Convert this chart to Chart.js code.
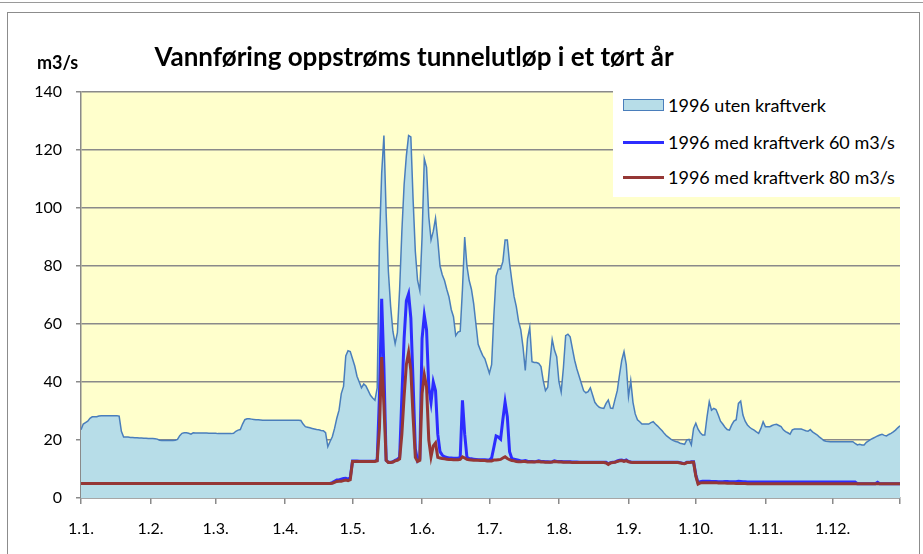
<!DOCTYPE html>
<html>
<head>
<meta charset="utf-8">
<script src="https://cdn.jsdelivr.net/npm/chart.js@4"></script>
<style>
  html, body { margin: 0; padding: 0; background: #fff; }
  body { width: 923px; height: 554px; position: relative; overflow: hidden; font-family: Lato, "Open Sans", sans-serif; }
  #topline { position: absolute; left: 0; top: 2px; width: 923px; height: 0; border-top: 1px solid #9a9a9a; }
  #frame { position: absolute; left: 7px; top: 12px; width: 913px; height: 560px; border: 1px solid #8c8c8c; box-sizing: border-box; }
  canvas { position: absolute; left: 0; top: 0; }
  #title { position: absolute; left: 0; top: 40px; width: 828px; text-align: center; font-weight: bold; font-size: 26px; line-height: 32px; color: #000; white-space: nowrap; }
  #unit { position: absolute; left: 37px; top: 51px; font-weight: bold; font-size: 18px; line-height: 22px; color: #000; }
  #legend { position: absolute; left: 613px; top: 90px; width: 289px; height: 107px; background: #fff; }
  .lg { position: absolute; left: 10px; height: 22px; display: flex; align-items: center; font-size: 18px; color: #000; white-space: nowrap; }
  .sw { width: 41px; margin-right: 4px; box-sizing: border-box; flex: none; }
</style>
</head>
<body>
<div id="topline"></div>
<div id="frame"></div>
<canvas id="c" width="923" height="554"></canvas>
<div id="title">Vannføring oppstrøms tunnelutløp i et tørt år</div>
<div id="unit">m3/s</div>
<div id="legend"></div>
<script>
// ---- data (daily values, 1996, 366 days) ----
const seriesNames = ['1996 uten kraftverk', '1996 med kraftverk 60 m3/s', '1996 med kraftverk 80 m3/s'];
const tickDays = [0, 31, 60, 91, 121, 152, 182, 213, 244, 274, 305, 335, 365];
const tickLabels = ['1.1.', '1.2.', '1.3.', '1.4.', '1.5.', '1.6.', '1.7.', '1.8.', '1.9.', '1.10.', '1.11.', '1.12.', ''];
const yTicks = [0, 20, 40, 60, 80, 100, 120, 140];

const utenKraftverk = [
  23.5, 25.5, 26, 26.5, 27.5, 28, 28, 28, 28.3, 28.4,
  28.4, 28.4, 28.4, 28.4, 28.4, 28.4, 28.4, 28.2, 23, 21,
  21, 21, 20.9, 20.9, 20.8, 20.8, 20.7, 20.7, 20.6, 20.6,
  20.5, 20.5, 20.5, 20.4, 20.3, 19.9, 19.8, 19.8, 19.8, 19.8,
  19.8, 19.8, 19.9, 20.2, 21.5, 22.3, 22.5, 22.5, 22.3, 22,
  22.5, 22.4, 22.4, 22.4, 22.4, 22.4, 22.4, 22.3, 22.3, 22.3,
  22.3, 22.2, 22.2, 22.2, 22.2, 22.2, 22.2, 22.2, 22.3, 23,
  23.4, 23.6, 25.5, 27, 27.3, 27.3, 27.2, 27.1, 27, 27,
  26.9, 26.8, 26.8, 26.8, 26.8, 26.8, 26.8, 26.8, 26.8, 26.8,
  26.8, 26.8, 26.8, 26.8, 26.8, 26.8, 26.8, 26.8, 26.7, 25.5,
  24.6, 24.4, 24.2, 24, 23.8, 23.6, 23.5, 23.3, 23.2, 22.5,
  17.7, 19.5, 21.1, 24, 27.5, 30.3, 36, 38.5, 49, 50.8,
  50.5, 48, 45.5, 42, 40, 38, 39.3, 38.6, 37, 35.4,
  34.5, 33.7, 38, 88, 112, 125, 98, 78, 66, 57.5,
  53.2, 57, 72, 92, 108, 118, 125, 124.5, 103, 85,
  75, 71.5, 90, 117, 114, 97, 89, 92, 96.5, 89,
  80, 77, 75, 72, 69.3, 65, 62.5, 56, 57.2, 57.5,
  72, 90, 80, 75, 72, 67, 60, 53, 51, 49.2,
  48, 45.5, 43, 46, 63, 76.5, 79, 79, 81.5, 89,
  89, 81, 75, 69.5, 66, 61, 58, 52, 44, 55,
  58.8, 47, 46.7, 46.7, 46.4, 45.3, 40.5, 37, 38.2, 47,
  54.7, 51, 48.7, 40.1, 36.5, 45, 56, 56.5, 55.6, 51.5,
  47.5, 44.5, 42, 39.5, 37, 36.3, 36.7, 38, 35.5, 33,
  32, 31.3, 31, 30.9, 32.6, 33.8, 31, 30.9, 34, 37,
  42.5, 47.5, 50.5, 46, 35, 40.5, 33, 29, 27, 26.3,
  25.5, 25.5, 25.5, 25.5, 26, 26.3, 25.5, 24.8, 24, 23.2,
  22.2, 21.4, 20.8, 20.2, 19.8, 19.5, 19.3, 18.9, 18.7, 18.5,
  20, 20.2, 18.3, 24, 25.8, 23.7, 22.5, 21.7, 21.7, 28,
  33.2, 30.3, 30.9, 30.5, 28.6, 26.5, 25.5, 24.4, 23.6, 23.4,
  25.2, 26.5, 27, 32.6, 33.4, 28.6, 26.5, 25.2, 24.4, 23.8,
  23.4, 22.8, 22.3, 24, 26.3, 24.6, 24.6, 24.6, 25, 25.3,
  25.4, 25, 24.6, 23.5, 22.9, 22.5, 22, 23.5, 23.8, 23.8,
  23.8, 23.8, 23.5, 23.2, 23, 23.6, 22.8, 22.3, 21.8, 21.1,
  20.5, 19.8, 19.6, 19.5, 19.4, 19.4, 19.4, 19.4, 19.4, 19.4,
  19.4, 19.4, 19.4, 19.4, 19.4, 18.8, 18.3, 18.5, 18.3, 18.3,
  19.2, 19.7, 20.2, 20.6, 21, 21.4, 21.7, 22, 21.6, 21.4,
  21.9, 22.3, 22.8, 23.4, 24.2, 24.9
];

const medKraftverk60 = [
  5, 5, 5, 5, 5, 5, 5, 5, 5, 5,
  5, 5, 5, 5, 5, 5, 5, 5, 5, 5,
  5, 5, 5, 5, 5, 5, 5, 5, 5, 5,
  5, 5, 5, 5, 5, 5, 5, 5, 5, 5,
  5, 5, 5, 5, 5, 5, 5, 5, 5, 5,
  5, 5, 5, 5, 5, 5, 5, 5, 5, 5,
  5, 5, 5, 5, 5, 5, 5, 5, 5, 5,
  5, 5, 5, 5, 5, 5, 5, 5, 5, 5,
  5, 5, 5, 5, 5, 5, 5, 5, 5, 5,
  5, 5, 5, 5, 5, 5, 5, 5, 5, 5,
  5, 5, 5, 5, 5, 5, 5, 5, 5, 5,
  5, 5, 5.3, 5.8, 6.2, 6.2, 6.5, 6.7, 6.8, 6.5,
  7, 12.8, 12.8, 12.8, 12.7, 12.7, 12.7, 12.7, 12.7, 12.7,
  12.7, 12.8, 13, 35, 68.7, 45, 13, 12.3, 12.3, 12.5,
  13, 13.3, 14, 35, 55, 68, 70.4, 62, 40, 17,
  12.8, 13.5, 55, 63, 58, 38, 33, 40, 37, 22,
  16, 14.8, 14.2, 14, 13.8, 13.8, 13.7, 13.7, 13.7, 14,
  33.7, 22, 14, 13.6, 13.5, 13.4, 13.3, 13.2, 13.2, 13.2,
  13.2, 13.1, 13.1, 13.8, 17.5, 21.4, 21, 20.3, 27, 33,
  28, 16, 13.6, 13.4, 13.2, 13, 12.8, 12.8, 12.9, 12.7,
  12.6, 12.6, 12.5, 12.6, 12.8, 12.6, 12.6, 12.5, 12.5, 12.4,
  12.5, 12.8, 12.6, 12.6, 12.6, 12.5, 12.5, 12.5, 12.5, 12.4,
  12.4, 12.4, 12.3, 12.3, 12.3, 12.3, 12.3, 12.3, 12.3, 12.3,
  12.3, 12.3, 12.3, 12.3, 12.3, 11.8, 12.2, 12.3, 12.4, 12.8,
  13, 13.1, 12.8, 13.1, 12.6, 12.4, 12.3, 12.3, 12.3, 12.3,
  12.3, 12.3, 12.3, 12.3, 12.3, 12.3, 12.3, 12.3, 12.3, 12.3,
  12.3, 12.3, 12.3, 12.3, 12.3, 12.3, 12.3, 12.2, 12, 11.9,
  12.3, 12.3, 12.5, 12.5, 8, 5.2, 5.6, 5.8, 5.8, 5.8,
  5.8, 5.7, 5.7, 5.7, 5.6, 5.6, 5.6, 5.7, 5.7, 5.6,
  5.6, 5.6, 5.6, 5.8, 5.7, 5.6, 5.6, 5.5, 5.5, 5.5,
  5.5, 5.5, 5.5, 5.5, 5.5, 5.5, 5.5, 5.5, 5.5, 5.5,
  5.5, 5.5, 5.5, 5.5, 5.5, 5.5, 5.5, 5.5, 5.5, 5.5,
  5.5, 5.5, 5.5, 5.5, 5.5, 5.5, 5.5, 5.5, 5.5, 5.5,
  5.5, 5.5, 5.5, 5.5, 5.5, 5.5, 5.5, 5.5, 5.5, 5.5,
  5.5, 5.5, 5.5, 5.5, 5.5, 5.5, 4.9, 4.9, 4.9, 4.9,
  4.9, 4.9, 4.9, 4.9, 4.9, 5.4, 4.9, 4.9, 4.9, 4.9,
  4.9, 4.9, 4.9, 4.9, 4.9, 4.9
];

const medKraftverk80 = [
  5, 5, 5, 5, 5, 5, 5, 5, 5, 5,
  5, 5, 5, 5, 5, 5, 5, 5, 5, 5,
  5, 5, 5, 5, 5, 5, 5, 5, 5, 5,
  5, 5, 5, 5, 5, 5, 5, 5, 5, 5,
  5, 5, 5, 5, 5, 5, 5, 5, 5, 5,
  5, 5, 5, 5, 5, 5, 5, 5, 5, 5,
  5, 5, 5, 5, 5, 5, 5, 5, 5, 5,
  5, 5, 5, 5, 5, 5, 5, 5, 5, 5,
  5, 5, 5, 5, 5, 5, 5, 5, 5, 5,
  5, 5, 5, 5, 5, 5, 5, 5, 5, 5,
  5, 5, 5, 5, 5, 5, 5, 5, 5, 5,
  5, 5, 5.1, 5.4, 5.7, 5.8, 5.8, 6, 6.2, 6,
  6.3, 12.6, 12.6, 12.6, 12.6, 12.6, 12.6, 12.6, 12.6, 12.6,
  12.6, 12.6, 12.8, 24, 48.6, 32, 13, 12.2, 12.2, 12.4,
  12.8, 13, 13.5, 22, 35, 46, 50.2, 44, 28, 14,
  12.6, 13, 36, 42.5, 38.4, 20, 14.2, 18, 19, 14,
  13.8, 13.6, 13.5, 13.4, 13.3, 13.3, 13.2, 13.2, 13.2, 13.3,
  14.2, 13.8, 13.3, 13.2, 13.1, 13, 13, 13, 12.9, 12.9,
  12.9, 12.8, 12.8, 12.8, 13.1, 13.1, 13.2, 13.3, 13.8, 14.2,
  13.6, 13.2, 12.9, 12.8, 12.6, 12.5, 12.5, 12.6, 12.6, 12.4,
  12.4, 12.5, 12.4, 12.5, 12.6, 12.4, 12.4, 12.3, 12.3, 12.3,
  12.4, 12.6, 12.5, 12.4, 12.4, 12.3, 12.3, 12.3, 12.3, 12.2,
  12.2, 12.2, 12.2, 12.2, 12.2, 12.2, 12.2, 12.2, 12.2, 12.2,
  12.2, 12.2, 12.2, 12.2, 12.1, 11.6, 12.1, 12.2, 12.3, 12.6,
  12.8, 12.9, 12.6, 12.9, 12.5, 12.3, 12.2, 12.2, 12.2, 12.2,
  12.2, 12.2, 12.2, 12.2, 12.2, 12.2, 12.2, 12.2, 12.2, 12.2,
  12.2, 12.2, 12.2, 12.2, 12.2, 12.2, 12.2, 12.1, 11.9, 11.8,
  12.2, 12.2, 12.3, 12.3, 7.5, 4.8, 5.2, 5.3, 5.3, 5.3,
  5.3, 5.3, 5.3, 5.3, 5.2, 5.2, 5.2, 5.2, 5.1, 5.1,
  5.1, 5.1, 5, 5, 5, 5, 5, 4.9, 4.9, 4.9,
  4.9, 4.9, 4.9, 4.9, 4.9, 4.9, 4.9, 4.9, 4.9, 4.9,
  4.9, 4.9, 4.9, 4.9, 4.9, 4.9, 4.9, 4.9, 4.9, 4.9,
  4.9, 4.9, 4.9, 4.9, 4.9, 4.9, 4.9, 4.9, 4.9, 4.9,
  4.9, 4.9, 4.9, 4.9, 4.9, 4.9, 4.9, 4.9, 4.9, 4.9,
  4.9, 4.9, 4.9, 4.9, 4.9, 4.9, 4.9, 4.9, 4.9, 4.9,
  4.9, 4.9, 4.9, 4.9, 4.9, 4.9, 4.9, 4.9, 4.9, 4.9,
  4.9, 4.9, 4.9, 4.9, 4.9, 4.9
];

// ---- styles ----
const areaFill = '#B7DDE8', areaLine = '#4A7EBB';
const blueLine = '#2D2DFF', redLine = '#953735';
const gridColor = '#8a8a8a';
const FONT = 'Lato, "Open Sans", sans-serif';

const toPoints = arr => arr.map((v, i) => ({ x: i, y: v }));

const plotBg = {
  id: 'plotBg',
  beforeDraw(chart) {
    const a = chart.chartArea, ctx = chart.ctx;
    ctx.save();
    ctx.fillStyle = '#FFFFCC';
    ctx.fillRect(a.left, a.top, a.right - a.left, a.bottom - a.top);
    ctx.restore();
  }
};

const chart = new Chart(document.getElementById('c'), {
  type: 'line',
  data: {
    datasets: [
      { label: seriesNames[0], data: toPoints(utenKraftverk), fill: 'origin', backgroundColor: areaFill,
        borderColor: areaLine, borderWidth: 1.5, pointRadius: 0, tension: 0, order: 2 },
      { label: seriesNames[1], data: toPoints(medKraftverk60), fill: false, borderColor: blueLine,
        borderWidth: 3, pointRadius: 0, tension: 0, order: 1 },
      { label: seriesNames[2], data: toPoints(medKraftverk80), fill: false, borderColor: redLine,
        borderWidth: 3, pointRadius: 0, tension: 0, order: 0 }
    ]
  },
  options: {
    responsive: false,
    animation: false,
    devicePixelRatio: 1,
    layout: { padding: { left: 0, right: 23, top: 92, bottom: 0 } },
    plugins: { legend: { display: false }, title: { display: false }, tooltip: { enabled: false } },
    scales: {
      x: {
        type: 'linear', min: 0, max: 365,
        afterBuildTicks: s => { s.ticks = tickDays.map(v => ({ value: v })); },
        afterFit: s => { s.height = 56; },
        ticks: {
          autoSkip: false, maxRotation: 0, padding: 15, color: '#000',
          font: { family: FONT, size: 16 },
          callback: v => { const i = tickDays.indexOf(v); return i >= 0 ? tickLabels[i] : ''; }
        },
        grid: { drawOnChartArea: false, drawTicks: true, tickLength: 6, color: gridColor, lineWidth: 1.5 },
        border: { display: true, color: gridColor, width: 1.5 }
      },
      y: {
        min: 0, max: 140,
        afterBuildTicks: s => { s.ticks = yTicks.map(v => ({ value: v })); },
        afterFit: s => { s.width = 81; },
        ticks: { padding: 14, color: '#000', font: { family: FONT, size: 16 } },
        grid: { color: gridColor, lineWidth: 1.5, drawTicks: true, tickLength: 5 },
        border: { display: true, color: gridColor, width: 1.5 }
      }
    }
  },
  plugins: [plotBg]
});

// ---- legend (HTML, built from the datasets) ----
const legend = document.getElementById('legend');
const rowTops = [4, 41, 76];
chart.data.datasets.forEach((ds, i) => {
  const row = document.createElement('div');
  row.className = 'lg';
  row.style.top = rowTops[i] + 'px';
  const sw = document.createElement('span');
  sw.className = 'sw';
  if (i === 0) {
    sw.style.height = '12px';
    sw.style.background = ds.backgroundColor;
    sw.style.border = '1.5px solid ' + ds.borderColor;
  } else {
    sw.style.height = '3px';
    sw.style.background = ds.borderColor;
  }
  row.appendChild(sw);
  const t = document.createElement('span');
  t.textContent = ds.label;
  row.appendChild(t);
  legend.appendChild(row);
});
</script>
</body>
</html>
